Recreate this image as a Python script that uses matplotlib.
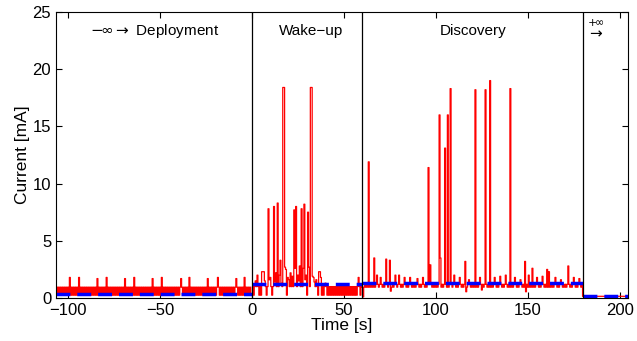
import numpy as np
import matplotlib.pyplot as plt

plt.rcParams['font.family'] = ['Liberation Sans', 'DejaVu Sans']
plt.rcParams['mathtext.fontset'] = 'dejavusans'

# phase boundaries [s] and mean current per phase [mA]
phase_edges = [-106.5, 0, 60, 180, 204.5]
phase_names = [r'$-\!\infty\rightarrow$ Deployment', 'Wake−up', 'Discovery']
avg_current = [0.35, 1.2, 1.3, 0.2]

# idle low / high levels of the red trace per phase
base_low = [0.25, 0.25, 0.95, 0.15]
base_high = [0.95, 1.0, 1.2, 0.15]

# spikes: (time, current)
deploy_spikes = [(-98.9, 1.8), (-94, 1.8), (-84, 1.7), (-79, 1.8), (-69, 1.7), (-64, 1.8),
                 (-54, 1.7), (-49, 1.8), (-38.6, 1.7), (-34, 1.8), (-24, 1.7), (-18.5, 1.8),
                 (-8.7, 1.7), (-3.8, 1.8)]
wake_spikes = [(2, 1.5), (3, 2.0), (5.5, 2.3), (6, 2.3), (6.5, 2.3), (7, 1.5), (8.9, 7.8),
               (9.5, 1.6), (10, 1.8), (11.8, 8.0), (12.5, 1.4), (13, 2.2), (14, 8.3),
               (15, 2.0), (15.6, 3.3), (16, 1.3), (16.8, 18.4), (17.5, 18.4), (18, 2.7),
               (18.5, 2.5), (19.5, 1.8), (20, 1.6), (21, 2.2), (22, 1.9), (23, 7.7),
               (23.5, 2.6), (24.1, 8.0), (25, 2.0), (25.5, 1.5), (26, 2.8), (27, 7.8),
               (27.8, 2.6), (28.6, 8.2), (29, 1.6), (29.5, 2.0), (30.4, 7.5), (31, 2.7),
               (31.8, 18.4), (32.6, 18.4), (33, 1.9), (33.5, 1.8), (34, 1.4), (35, 1.6),
               (36.3, 2.3), (36.9, 2.3), (37.5, 1.8), (40, 1.3), (58, 1.8)]
disc_spikes = [(60.5, 0.1), (63.4, 11.9), (66.3, 3.5), (68, 2.0), (70, 1.8), (73.2, 3.4),
               (75, 3.3), (75.5, 0.6), (78, 2.0), (80, 2.0), (83, 1.8), (86, 1.8), (90, 1.7),
               (93, 1.8), (95.8, 11.4), (97, 2.9), (101.8, 16.0), (102.7, 3.5), (105.2, 13.1),
               (106.5, 16.0), (108.2, 18.3), (110, 2.0), (113, 1.8), (116, 3.2), (116.5, 0.55),
               (118, 1.6), (121.7, 18.2), (124, 1.8), (125, 0.7), (127, 18.2), (129.3, 19.0),
               (132, 1.8), (135, 1.9), (138, 2.0), (140.4, 18.3), (143, 1.8), (146, 1.6),
               (148.6, 3.2), (149, 0.55), (150.5, 2.0), (152.3, 2.6), (155, 1.8), (158, 1.9),
               (160.6, 2.5), (161.5, 2.3), (165, 1.8), (168, 1.6), (171.9, 2.8), (175, 1.8),
               (178, 1.7)]
post_spikes = []
spikes = [deploy_spikes, wake_spikes, disc_spikes, post_spikes]

# build the sampled trace
dt = 0.5
t_all, i_all = [], []
for k in range(4):
    t = np.arange(phase_edges[k], phase_edges[k + 1], dt)
    cur = np.where(np.arange(len(t)) % 2 == 0, base_low[k], base_high[k])
    for ts, v in spikes[k]:
        cur[np.argmin(np.abs(t - ts))] = v
    t_all.append(t)
    i_all.append(cur)
t_all = np.concatenate(t_all)
i_all = np.concatenate(i_all)

fig = plt.figure(figsize=(6.37, 3.41), dpi=100)
ax = fig.add_axes([0.088, 0.126, 0.898, 0.839])

ax.plot(t_all, i_all, color='red', lw=0.9, drawstyle='steps-mid')
for k in range(4):
    ax.plot([phase_edges[k], phase_edges[k + 1]], [avg_current[k]] * 2, color='blue',
            lw=2.5, ls=(0, (4, 2)))
for x in phase_edges[1:4]:
    ax.axvline(x, color='black', lw=0.9)

ax.text(-53, 23.3, phase_names[0], ha='center', va='center', fontsize=11)
ax.text(32, 23.3, phase_names[1], ha='center', va='center', fontsize=11)
ax.text(120, 23.3, phase_names[2], ha='center', va='center', fontsize=11)
ax.text(182, 24.1, r'$+\!\infty$', ha='left', va='center', fontsize=8)
ax.text(182.3, 23.1, r'$\rightarrow$', ha='left', va='center', fontsize=11)

ax.set_xlim(phase_edges[0], phase_edges[-1])
ax.set_ylim(0, 25)
ax.set_xticks([-100, -50, 0, 50, 100, 150, 200])
ax.set_yticks([0, 5, 10, 15, 20, 25])
ax.tick_params(direction='in', top=True, right=True, length=4, labelsize=12)
ax.set_xlabel('Time [s]', fontsize=12.5, labelpad=0)
ax.set_ylabel('Current [mA]', fontsize=12.5, labelpad=2)

fig.savefig('out.png', dpi=100)
